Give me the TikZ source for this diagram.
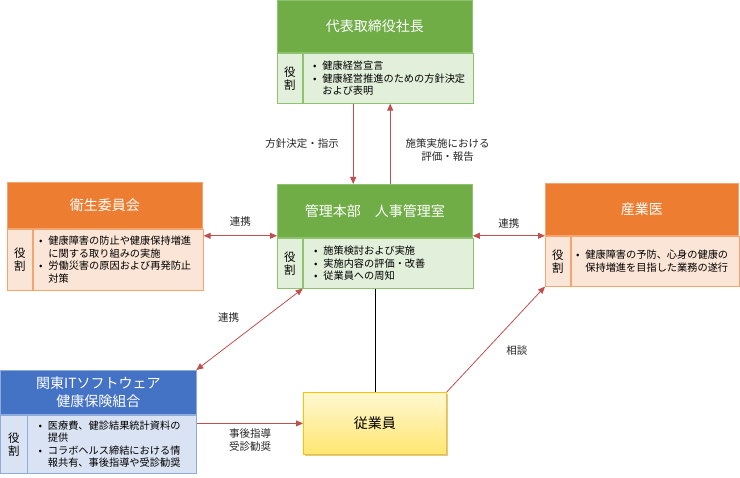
\documentclass[tikz,border=0pt]{standalone}
\usepackage{fontspec}
\setmainfont{Noto Sans CJK JP}
\usepackage{tikz}
\usetikzlibrary{arrows.meta,positioning,shadows}
\definecolor{GreenHead}{HTML}{70AD47}
\definecolor{GreenSoft}{HTML}{E2EFDA}
\definecolor{GreenLine}{HTML}{8DC26F}
\definecolor{OrangeHead}{HTML}{ED7D31}
\definecolor{OrangeSoft}{HTML}{FBE5D6}
\definecolor{OrangeLine}{HTML}{F4A46E}
\definecolor{BlueHead}{HTML}{4472C4}
\definecolor{BlueSoft}{HTML}{DAE3F3}
\definecolor{BlueLine}{HTML}{8FAADC}
\definecolor{EmpTop}{HTML}{FFF8D2}
\definecolor{EmpBottom}{HTML}{FFE670}
\definecolor{EmpLine}{HTML}{FFC000}
\definecolor{LinkRed}{HTML}{C0504D}
\newcommand{\itm}{\makebox[0.9em][l]{•}}
\newcommand{\cnt}{\hspace*{0.9em}}
\tikzset{
  headbox/.style={anchor=north west,inner sep=2pt,align=center,text=white,
              font=\fontsize{14}{18}\selectfont,line width=0.8pt},
  rolebox/.style={minimum width=25pt,inner sep=0pt,align=center,
              font=\fontsize{11.5}{13}\selectfont,line width=0.8pt},
  textbox/.style={inner ysep=2pt,align=left,font=\fontsize{10.2}{12.4}\selectfont,line width=0.8pt},
  greenhead/.style={headbox,fill=GreenHead,draw=GreenLine},
  greenrole/.style={rolebox,fill=GreenSoft,draw=GreenLine},
  greentext/.style={textbox,fill=GreenSoft,draw=GreenLine},
  orangehead/.style={headbox,fill=OrangeHead,draw=OrangeLine},
  orangerole/.style={rolebox,fill=OrangeSoft,draw=OrangeLine},
  orangetext/.style={textbox,fill=OrangeSoft,draw=OrangeLine},
  bluehead/.style={headbox,fill=BlueHead,draw=BlueLine},
  bluerole/.style={rolebox,fill=BlueSoft,draw=BlueLine},
  bluetext/.style={textbox,fill=BlueSoft,draw=BlueLine},
  empbox/.style={anchor=north west,top color=EmpTop,bottom color=EmpBottom,draw=EmpLine,line width=0.8pt,
              drop shadow={shadow xshift=1.5pt,shadow yshift=-2pt,opacity=0.35,fill=black!60},
              font=\fontsize{14}{18}\selectfont},
  link/.style={-{Triangle[length=7pt,width=6pt]},line width=0.8pt,draw=LinkRed},
  bilink/.style={{Triangle[length=7pt,width=6pt]}-{Triangle[length=7pt,width=6pt]},line width=0.8pt,draw=LinkRed},
  note/.style={font=\fontsize{10.5}{13}\selectfont,align=center,inner sep=2pt,text=black!85}
}
\begin{document}
\begin{tikzpicture}[x=1pt,y=-1pt]
  \useasboundingbox (0,0) rectangle (740,478);

  \node[greenhead,minimum width=195pt,minimum height=52pt] (ceohead) at (277,0) {代表取締役社長};
  \node[greenrole,minimum height=50pt,below right=0pt and 0pt of ceohead.south west] (ceorole) {役\\割};
  \node[greentext,minimum height=50pt,inner xsep=10pt,text width=150pt,right=0pt of ceorole] (ceobody)
    {\itm 健康経営宣言\\\itm 健康経営推進のための方針決定\\\cnt および表明};

  \node[greenhead,minimum width=195pt,minimum height=53pt] (mgmthead) at (277,184) {管理本部　人事管理室};
  \node[greenrole,minimum height=50pt,below right=0pt and 0pt of mgmthead.south west] (mgmtrole) {役\\割};
  \node[greentext,minimum height=50pt,inner xsep=11pt,text width=148pt,right=0pt of mgmtrole] (mgmtbody)
    {\itm 施策検討および実施\\\itm 実施内容の評価・改善\\\itm 従業員への周知};

  \node[orangehead,minimum width=195pt,minimum height=46pt] (eiseihead) at (7,182) {衛生委員会};
  \node[orangerole,minimum height=61pt,below right=0pt and 0pt of eiseihead.south west] (eiseirole) {役\\割};
  \node[orangetext,minimum height=61pt,inner xsep=6pt,text width=158pt,right=0pt of eiseirole] (eiseibody)
    {\itm 健康障害の防止や健康保持増進\\\cnt に関する取り組みの実施\\\itm 労働災害の原因および再発防止\\\cnt 対策};

  \node[orangehead,minimum width=193pt,minimum height=52pt] (sangyoihead) at (545,183) {産業医};
  \node[orangerole,minimum height=50pt,below right=0pt and 0pt of sangyoihead.south west] (sangyoirole) {役\\割};
  \node[orangetext,minimum height=50pt,inner xsep=5pt,text width=158pt,right=0pt of sangyoirole] (sangyoibody)
    {\itm 健康障害の予防、心身の健康の\\\cnt 保持増進を目指した業務の遂行};

  \node[bluehead,minimum width=195pt,minimum height=44pt] (kantohead) at (0.5,370) {関東ITソフトウェア\\健康保険組合};
  \node[bluerole,minimum width=26pt,minimum height=58pt,below right=0pt and 0pt of kantohead.south west] (kantorole) {役\\割};
  \node[bluetext,minimum height=58pt,inner xsep=11pt,text width=147pt,right=0pt of kantorole] (kantobody)
    {\itm 医療費、健診結果統計資料の\\\cnt 提供\\\itm コラボヘルス締結における情\\\cnt 報共有、事後指導や受診勧奨};

  \node[empbox,minimum width=143pt,minimum height=62pt] (emp) at (303,392) {従業員};

  \draw[link] ([xshift=-35pt]ceobody.south) -- ([xshift=-35pt]ceobody.south |- mgmthead.north)
    node[midway,note,left=12pt] {方針決定・指示};
  \draw[link] ([xshift=2pt]ceobody.south |- mgmthead.north) -- ([xshift=2pt]ceobody.south)
    node[midway,note,right=13pt,yshift=-6pt] {施策実施における\\評価・報告};
  \draw[bilink] ([yshift=2pt]mgmthead.south west -| eiseibody.east) -- ([yshift=2pt]mgmthead.south west)
    node[midway,note,above=7pt] {連携};
  \draw[bilink] ([yshift=2pt]mgmthead.south east) -- ([yshift=2pt]mgmthead.south east -| sangyoihead.west)
    node[midway,note,above=5pt] {連携};
  \draw[bilink] (mgmtrole.south east) -- (kantohead.north east)
    node[midway,note,above left=5pt and 8pt] {連携};
  \draw[link] (emp.north east) -- (sangyoirole.south west)
    node[midway,note,below right=4pt and 8pt] {相談};
  \draw[line width=0.8pt] (emp.north) -- (emp.north |- mgmtbody.south);
  \draw[link] (emp.west -| kantobody.east) -- (emp.west)
    node[midway,note,below=3pt] {事後指導\\受診勧奨};
\end{tikzpicture}
\end{document}
